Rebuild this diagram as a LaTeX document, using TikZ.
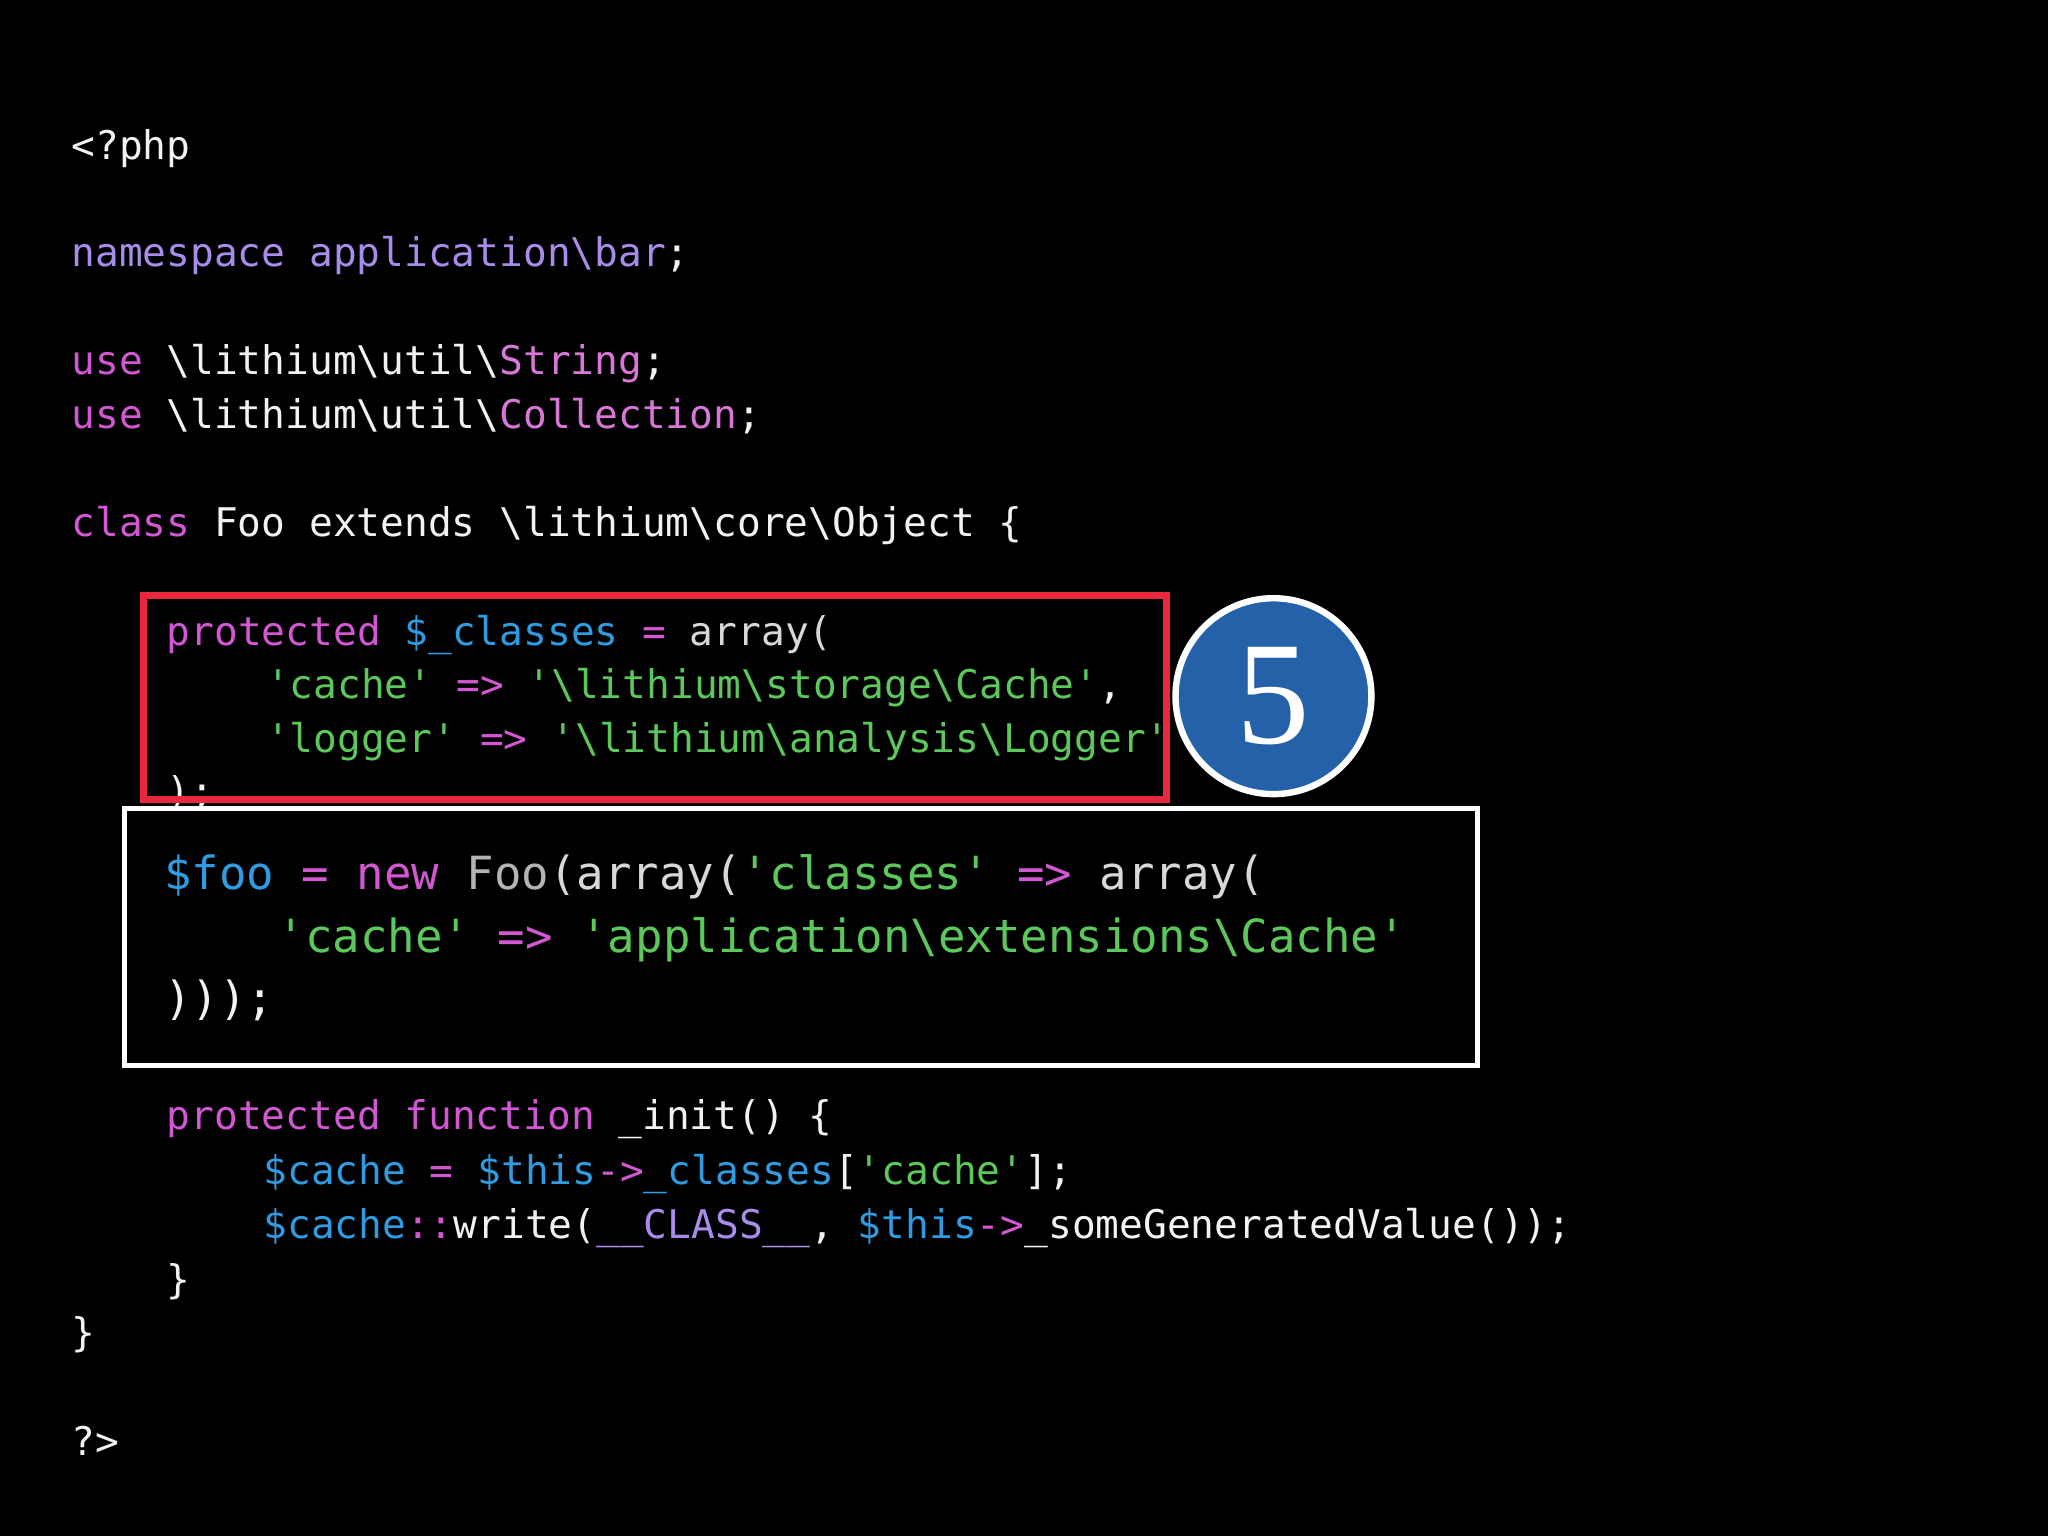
\documentclass[tikz,border=0pt]{standalone}
\usepackage{fontspec}
\setmonofont{DejaVu Sans Mono}
\setmainfont{Liberation Serif}
\definecolor{pl}{HTML}{F2F2F2}
\definecolor{ns}{HTML}{A98BEA}
\definecolor{kw}{HTML}{D257D2}
\definecolor{cl}{HTML}{D877D8}
\definecolor{vr}{HTML}{2F9BE0}
\definecolor{st}{HTML}{5CC85C}
\definecolor{gr}{HTML}{B4B4B4}
\definecolor{ar}{HTML}{D8D8D8}
\definecolor{cb}{HTML}{2461A8}
\definecolor{rd}{HTML}{E8283C}
\newcommand\bs{\textbackslash}
\newcommand\sq{\char"27 }
\newcommand\cc[2]{\textcolor{#1}{#2}}
\begin{document}
\begin{tikzpicture}[x=0.01cm,y=-0.01cm,
  code/.style={anchor=base west,inner sep=0pt,text=pl,font=\ttfamily\fontsize{8.6}{10}\selectfont},
  bigcode/.style={anchor=base west,inner sep=0pt,text=pl,font=\ttfamily\fontsize{9.95}{12}\selectfont}]
\fill[black] (0,0) rectangle (1568,1176);
\useasboundingbox (0,0) rectangle (1568,1176);
\node[code] (l1) at (54,122) {<?php};
\node[code] (l2) at (54,204) {\cc{ns}{namespace application\bs bar};};
\node[code] (l3) at (54,287) {\cc{kw}{use} \bs lithium\bs util\bs\cc{cl}{String};};
\node[code] (l4) at (54,328) {\cc{kw}{use} \bs lithium\bs util\bs\cc{cl}{Collection};};
\node[code] (l5) at (54,411) {\cc{kw}{class} Foo extends \bs lithium\bs core\bs Object \{};
\node[code] (l6) at (127,494) {\cc{kw}{protected} \cc{vr}{\$\_classes} \cc{kw}{=} \cc{ar}{array(}};
\node[code] (l7) at (203,535) {\cc{st}{\sq cache\sq} \cc{kw}{=>} \cc{st}{\sq\bs lithium\bs storage\bs Cache\sq},};
\node[code] (l8) at (203,576) {\cc{st}{\sq logger\sq} \cc{kw}{=>} \cc{st}{\sq\bs lithium\bs analysis\bs Logger\sq}};
\node[code] (l9) at (127,617) {);};
\node[code] (l10) at (127,865) {\cc{kw}{protected function} \_init() \{};
\node[code] (l11) at (201,907) {\cc{vr}{\$cache} \cc{kw}{=} \cc{vr}{\$this}\cc{kw}{->}\cc{vr}{\_classes}[\cc{st}{\sq cache\sq}];};
\node[code] (l12) at (201,948) {\cc{vr}{\$cache}\cc{kw}{::}write(\cc{ns}{\_\_CLASS\_\_}, \cc{vr}{\$this}\cc{kw}{->}\_someGeneratedValue());};
\node[code] (l13) at (127,990) {\}};
\node[code] (l14) at (54,1031) {\}};
\node[code] (l15) at (54,1114) {?>};
\draw[rd,line width=5pt*0.28] (110,456) rectangle (893,612);
\draw[white,fill=black,line width=4pt*0.28] (95,619) rectangle (1131,816);
\node[bigcode] (b1) at (125,681) {\cc{vr}{\$foo} \cc{kw}{=} \cc{kw}{new} \cc{gr}{Foo}\cc{ar}{(array(}\cc{st}{\sq classes\sq} \cc{kw}{=>} \cc{ar}{array(}};
\node[bigcode] (b2) at (212,729) {\cc{st}{\sq cache\sq} \cc{kw}{=>} \cc{st}{\sq application\bs extensions\bs Cache\sq}};
\node[bigcode] (b3) at (125,777) {)));};
\node[circle,draw=white,fill=cb,line width=5pt*0.28,minimum size=150*0.01cm,inner sep=0pt,text=white,font=\fontsize{32}{34}\selectfont] (c5) at (975,533) {5};
\end{tikzpicture}
\end{document}
